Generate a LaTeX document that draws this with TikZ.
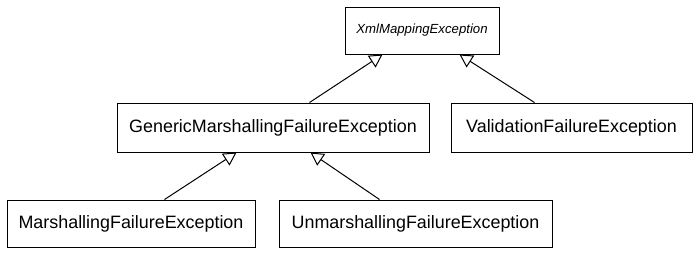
\documentclass[tikz,border=0pt]{standalone}
\usepackage{fontspec}
\setmainfont{Liberation Sans}
\usetikzlibrary{arrows.meta,calc}
\begin{document}
\begin{tikzpicture}[x=1pt,y=-1pt,
  cls/.style={draw,line width=1pt,inner sep=0pt,minimum height=47pt,font=\fontsize{17.9}{20}\selectfont},
  inh/.style={line width=1pt,-{Triangle[open,length=13pt,width=14pt]}}]
\useasboundingbox (0,0) rectangle (699,255);
\node[cls,minimum width=154pt,font=\fontsize{13.2}{15}\selectfont\itshape] (xml) at (422,30.5) {XmlMappingException};
\node[cls,minimum width=312pt,minimum height=49pt] (gen) at (273,127.5) {GenericMarshallingFailureException};
\node[cls,minimum width=241pt,minimum height=49pt] (val) at (571.5,127.5) {ValidationFailureException};
\node[cls,minimum width=248pt] (mar) at (131,223.5) {MarshallingFailureException};
\node[cls,minimum width=273pt] (unm) at (415.5,223.5) {UnmarshallingFailureException};
\draw[inh] ($(gen.north west)+(193,0)$) -- ($(xml.south west)+(38,0)$);
\draw[inh] ($(val.north west)+(84,0)$) -- ($(xml.south west)+(115,0)$);
\draw[inh] ($(mar.north west)+(158,0)$) -- ($(gen.south west)+(120,0)$);
\draw[inh] ($(unm.north west)+(101,0)$) -- ($(gen.south west)+(194,0)$);
\end{tikzpicture}
\end{document}
